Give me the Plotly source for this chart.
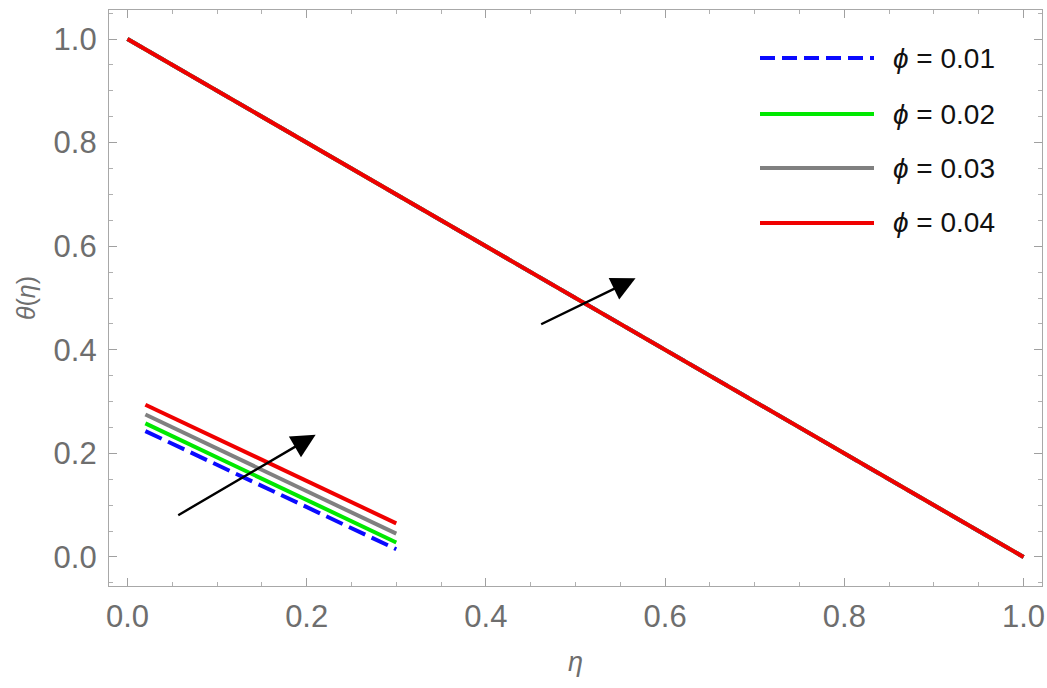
import plotly.graph_objects as go

# Temperature profiles theta(eta) for several nanoparticle volume fractions
phi_labels = ["<i>ϕ</i> = 0.01", "<i>ϕ</i> = 0.02", "<i>ϕ</i> = 0.03", "<i>ϕ</i> = 0.04"]
colors = ["#0a0aff", "#00e800", "#808080", "#f00000"]
dashes = ["18px,7px", "solid", "solid", "solid"]

eta = [0.0, 0.25, 0.5, 0.75, 1.0]
theta_001 = [1.0, 0.75, 0.5, 0.25, 0.0]
theta_002 = [1.0, 0.75, 0.5, 0.25, 0.0]
theta_003 = [1.0, 0.75, 0.5, 0.25, 0.0]
theta_004 = [1.0, 0.75, 0.5, 0.25, 0.0]

# Magnified view of the profiles (lower left)
inset_eta = [0.02, 0.30]
inset_001 = [0.243, 0.015]
inset_002 = [0.258, 0.028]
inset_003 = [0.275, 0.045]
inset_004 = [0.294, 0.065]

# Arrows showing increasing phi: (tail_x, tail_y, head_x, head_y)
arrow_inset = (0.055, 0.079, 0.210, 0.236)
arrow_main = (0.460, 0.448, 0.567, 0.538)

x_ticks = [0.0, 0.2, 0.4, 0.6, 0.8, 1.0]
y_ticks = [0.0, 0.2, 0.4, 0.6, 0.8, 1.0]

main_series = [theta_001, theta_002, theta_003, theta_004]
inset_series = [inset_001, inset_002, inset_003, inset_004]

fig = go.Figure()
for name, col, dash, ys in zip(phi_labels, colors, dashes, main_series):
    fig.add_trace(go.Scatter(x=eta, y=ys, mode="lines", name=name,
                             line=dict(color=col, width=4, dash=dash),
                             showlegend=False))
for name, col, dash, ys in zip(phi_labels, colors, dashes, inset_series):
    fig.add_trace(go.Scatter(x=inset_eta, y=ys, mode="lines", name=name,
                             line=dict(color=col, width=4, dash=dash),
                             showlegend=False))

for (tx, ty, hx, hy) in (arrow_inset, arrow_main):
    fig.add_annotation(x=hx, y=hy, ax=tx, ay=ty, xref="x", yref="y",
                       axref="x", ayref="y", text="", showarrow=True,
                       arrowhead=2, arrowsize=2.0, arrowwidth=2.4,
                       arrowcolor="black")

# Legend block (top right) with long line samples
L, R, T, B = 109, 1042, 10, 586
pw, ph = R - L, B - T
leg_rows = [58, 114, 168, 223]
for name, col, dash, py in zip(phi_labels, colors, dashes, leg_rows):
    yy = (B - py) / ph
    fig.add_shape(type="line", xref="paper", yref="paper",
                  x0=(760 - L) / pw, x1=(874 - L) / pw, y0=yy, y1=yy,
                  line=dict(color=col, width=4,
                            dash="15px,7px" if dash != "solid" else "solid"))
    fig.add_annotation(xref="paper", yref="paper", x=(891 - L) / pw, y=yy,
                       text=name, showarrow=False, xanchor="left",
                       yanchor="middle",
                       font=dict(family="Liberation Sans", size=28, color="#111"))

axis_common = dict(
    showgrid=False, zeroline=False, showline=True, linecolor="#a8a8a8",
    linewidth=1.2, mirror="ticks", ticks="inside", ticklen=8, tickwidth=1,
    tickcolor="#a0a0a0",
    tickfont=dict(family="Liberation Sans", size=31, color="#6e6e6e"),
    minor=dict(dtick=0.05, ticks="inside", ticklen=4, tickcolor="#b0b0b0",
               tickwidth=1, showgrid=False),
)

fig.update_xaxes(range=[-0.0206, 1.0206], tickvals=x_ticks,
                 ticktext=[f"{v:.1f}" for v in x_ticks],
                 title=dict(text="<i>η</i>", standoff=18,
                            font=dict(family="Liberation Sans", size=27,
                                      color="#6e6e6e")),
                 ticklabelstandoff=3, **axis_common)
fig.update_yaxes(range=[-0.056, 1.056], tickvals=y_ticks,
                 ticktext=[f"{v:.1f}" for v in y_ticks],
                 title=dict(text="<i>θ</i>(<i>η</i>)", standoff=10,
                            font=dict(family="Liberation Sans", size=25,
                                      color="#6e6e6e")),
                 ticklabelstandoff=5, **axis_common)

fig.update_layout(width=1047, height=688, plot_bgcolor="white",
                  paper_bgcolor="white",
                  margin=dict(l=L, r=1047 - R, t=T, b=688 - B, autoexpand=False),
                  showlegend=False)

fig.write_html("out.html")
